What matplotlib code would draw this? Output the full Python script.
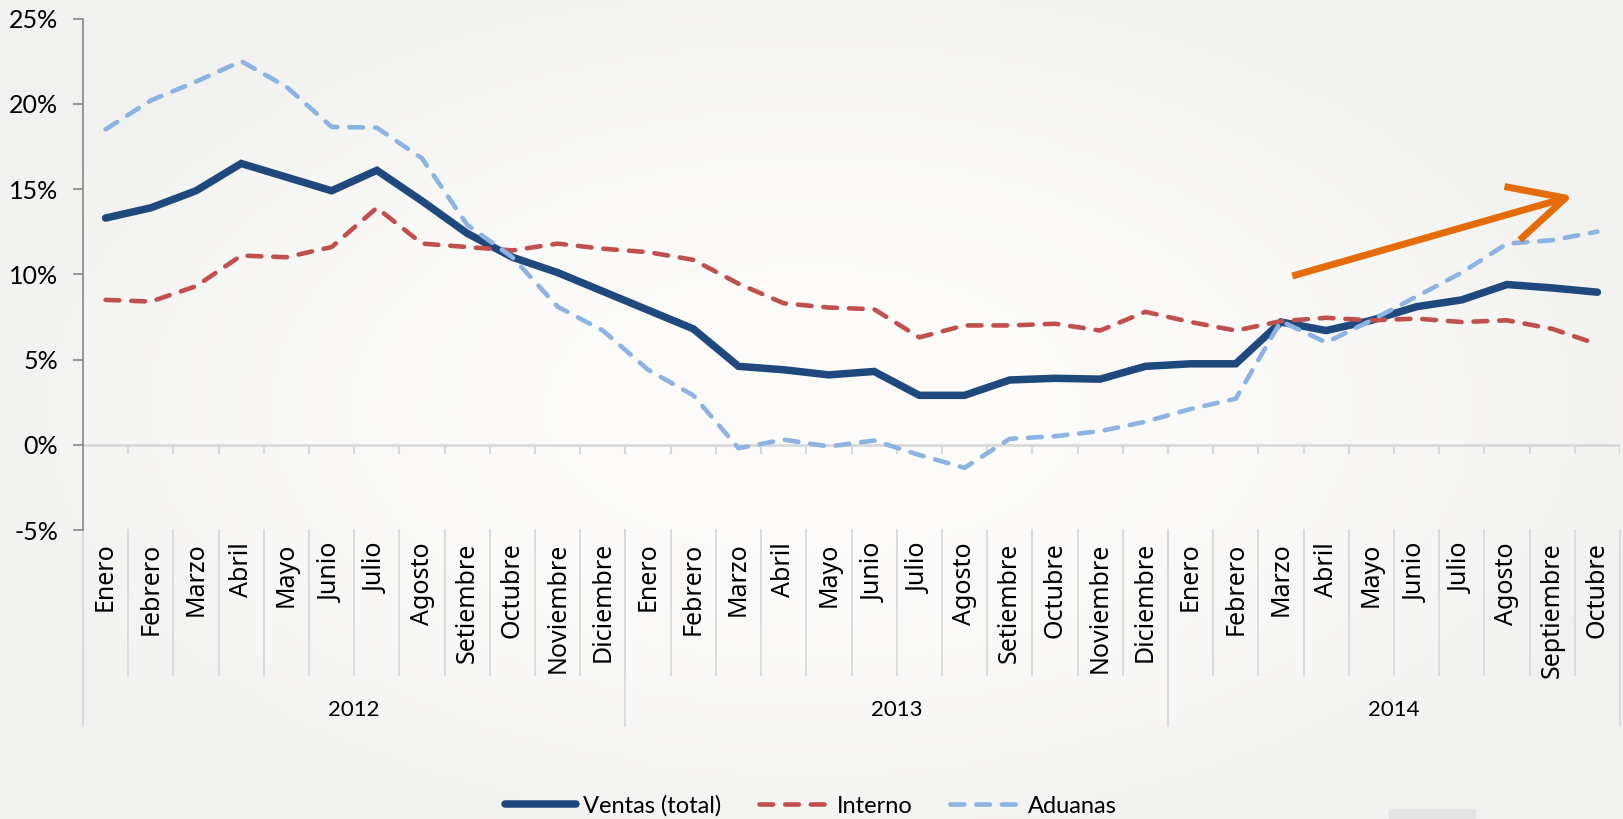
import numpy as np
import matplotlib.pyplot as plt
from matplotlib.transforms import blended_transform_factory
from matplotlib.patches import Rectangle

#---------------------------------------------------------------------data
years = ['2012', '2013', '2014']
months_2012 = ['Enero', 'Febrero', 'Marzo', 'Abril', 'Mayo', 'Junio', 'Julio',
               'Agosto', 'Setiembre', 'Octubre', 'Noviembre', 'Diciembre']
months_2013 = ['Enero', 'Febrero', 'Marzo', 'Abril', 'Mayo', 'Junio', 'Julio',
               'Agosto', 'Setiembre', 'Octubre', 'Noviembre', 'Diciembre']
months_2014 = ['Enero', 'Febrero', 'Marzo', 'Abril', 'Mayo', 'Junio', 'Julio',
               'Agosto', 'Septiembre', 'Octubre']
months = months_2012 + months_2013 + months_2014
year_sizes = [len(months_2012), len(months_2013), len(months_2014)]

ventas = [13.3, 13.9, 14.9, 16.5, 15.7, 14.9, 16.1, 14.3, 12.4, 11.0, 10.1, 9.0,
          7.9, 6.8, 4.6, 4.4, 4.1, 4.3, 2.9, 2.9, 3.8, 3.9, 3.85, 4.6,
          4.75, 4.75, 7.2, 6.7, 7.3, 8.1, 8.5, 9.4, 9.2, 8.95]
interno = [8.5, 8.4, 9.3, 11.1, 11.0, 11.6, 13.9, 11.8, 11.6, 11.4, 11.8, 11.5,
           11.3, 10.85, 9.45, 8.3, 8.05, 7.95, 6.3, 7.0, 7.0, 7.1, 6.7, 7.8,
           7.2, 6.7, 7.25, 7.45, 7.3, 7.4, 7.2, 7.3, 6.8, 5.9]
aduanas = [18.5, 20.2, 21.3, 22.5, 21.0, 18.65, 18.6, 16.8, 12.9, 11.0, 8.1, 6.7,
           4.4, 2.9, -0.2, 0.3, -0.1, 0.25, -0.6, -1.35, 0.35, 0.5, 0.8, 1.35,
           2.1, 2.7, 7.25, 6.0, 7.3, 8.7, 10.1, 11.8, 12.0, 12.5]

yticks = [-5, 0, 5, 10, 15, 20, 25]

# trend arrow (data coords)
arrow_tail = (26.25, 9.9)
arrow_tip = (32.46, 14.6)

#---------------------------------------------------------------------colors
c_ventas = '#1f497d'
c_interno = '#c0504d'
c_aduanas = '#8db3e2'
c_arrow = '#e46c0a'
c_grid = '#d9d9d9'

fig = plt.figure(figsize=(16.23, 8.19), dpi=100)

#---background: soft radial gradient
bg = fig.add_axes([0, 0, 1, 1], zorder=-10)
gx, gy = np.meshgrid(np.linspace(-1, 1, 400), np.linspace(-1, 1, 200))
rr = np.clip(np.sqrt((gx / 1.1) ** 2 + (gy / 1.2) ** 2), 0, 1) ** 2
inner = np.array([253, 252, 250]) / 255
outer = np.array([241, 241, 240]) / 255
img = inner[None, None, :] * (1 - rr[..., None]) + outer[None, None, :] * rr[..., None]
bg.imshow(img, aspect='auto', extent=[0, 1, 0, 1])
bg.axis('off')

ax = fig.add_axes([83 / 1623, 1 - 530 / 819, 1537 / 1623, 511.4 / 819])
ax.patch.set_alpha(0)

x = np.arange(len(months))

ax.plot(x, ventas, color=c_ventas, lw=5.4, solid_capstyle='round',
        solid_joinstyle='miter', label='Ventas (total)', zorder=3)
ax.plot(x, interno, color=c_interno, lw=3.3, dashes=(3.0, 2.6),
        dash_capstyle='round', label='Interno', zorder=4)
ax.plot(x, aduanas, color=c_aduanas, lw=3.3, dashes=(3.0, 2.6),
        dash_capstyle='round', label='Aduanas', zorder=5)

ax.annotate('', xy=arrow_tip, xytext=arrow_tail,
            arrowprops=dict(arrowstyle='->,head_length=1.0,head_width=0.5',
                            color=c_arrow, lw=5, mutation_scale=40,
                            shrinkA=0, shrinkB=0, capstyle='butt'),
            zorder=6)

ax.set_xlim(-0.5, len(months) - 0.5)
ax.set_ylim(-5, 25)

for s in ['top', 'right', 'bottom']:
    ax.spines[s].set_visible(False)
ax.spines['left'].set_color('#868686')
ax.spines['left'].set_linewidth(1.2)

ax.set_yticks(yticks)
ax.set_yticklabels([f'{v}%' for v in yticks], family=['Lato', 'DejaVu Sans'],
                   fontsize=18)
ax.tick_params(axis='y', length=7, width=1.2, color='#868686', pad=11)
ax.set_xticks([])

#---category axis at 0
ax.axhline(0, color=c_grid, lw=2, zorder=1)
ax.vlines(np.arange(len(months)) + 0.5, -0.55, 0, color=c_grid, lw=1.5, zorder=1)

#---multi-level labels below the plot
tr = blended_transform_factory(ax.transData, ax.transAxes)
for k in range(1, len(months)):
    ax.plot([k - 0.5, k - 0.5], [0, -0.2835], transform=tr, color=c_grid,
            lw=1.3, clip_on=False)
for i, m in enumerate(months):
    ax.text(i, -0.024, m, transform=tr, rotation=90, ha='center', va='top',
            fontsize=18, family=['Noto Sans', 'DejaVu Sans'], color='black')

start = 0
bounds = [-0.5]
for y, n in zip(years, year_sizes):
    ax.text(start + n / 2 - 0.5, -0.352, y, transform=tr, ha='center',
            va='center', fontsize=16, family=['Lato', 'DejaVu Sans'])
    start += n
    bounds.append(start - 0.5)
for b in bounds:
    ax.plot([b, b], [0, -0.383], transform=tr, color=c_grid, lw=1.3,
            clip_on=False)

#---legend
fig.legend(loc='center', bbox_to_anchor=(811 / 1623, 1 - 806 / 819), ncol=3,
           frameon=False, prop={'family': ['Lato', 'DejaVu Sans'], 'size': 17},
           handlelength=3.0, handletextpad=0.3, columnspacing=1.6)

fig.patches.append(Rectangle((1389 / 1623, 0), 86 / 1623, 10 / 819,
                             transform=fig.transFigure, color='#e3e3e3',
                             zorder=-5))

fig.savefig('out.png', dpi=100)
